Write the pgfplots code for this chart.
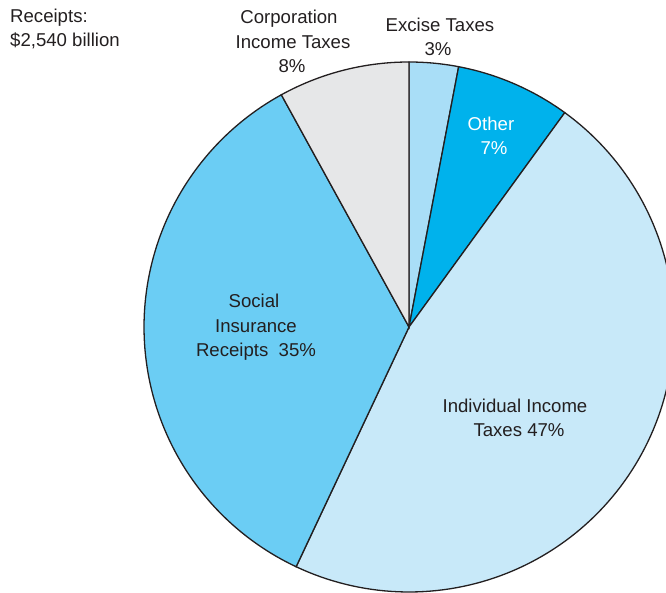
\documentclass[border=0pt]{standalone}
\usepackage{pgfplots}
\pgfplotsset{compat=1.18}
\usepackage{fontspec}
\setmainfont{Liberation Sans}
\definecolor{txt}{HTML}{231F20}
\definecolor{edge}{HTML}{231F20}
\definecolor{excise}{HTML}{A9DEF7}
\definecolor{other}{HTML}{00B2EC}
\definecolor{indiv}{HTML}{C8E9F9}
\definecolor{social}{HTML}{6BCDF4}
\definecolor{corp}{HTML}{E6E7E8}
% pie centre and radius (pixels of the reference, y upwards)
\def\cx{409}\def\cy{266}\def\R{265}
\tikzset{lbl/.style={font=\fontsize{18.6bp}{24bp}\selectfont, text=txt, inner sep=0pt}}
\begin{document}
\begin{tikzpicture}
\useasboundingbox (0,0) rectangle (666bp,593bp);
\begin{axis}[
  scale only axis, width=666bp, height=593bp,
  xmin=0, xmax=666, ymin=0, ymax=593,
  hide axis, clip=true,
]
% shares (percent): Excise 3, Other 7, Individual 47, Social 35, Corporation 8
% slices run clockwise from 12 o'clock; angle = 90 - 3.6 * cumulative percent
\addplot[draw=edge, line width=1.3bp, fill=excise, domain=79.2:90, samples=20, variable=\t]
  ({\cx+\R*cos(t)},{\cy+\R*sin(t)}) -- (axis cs:\cx,\cy) -- cycle;
\addplot[draw=edge, line width=1.3bp, fill=other, domain=54:79.2, samples=30, variable=\t]
  ({\cx+\R*cos(t)},{\cy+\R*sin(t)}) -- (axis cs:\cx,\cy) -- cycle;
\addplot[draw=edge, line width=1.3bp, fill=indiv, domain=-115.2:54, samples=120, variable=\t]
  ({\cx+\R*cos(t)},{\cy+\R*sin(t)}) -- (axis cs:\cx,\cy) -- cycle;
\addplot[draw=edge, line width=1.3bp, fill=social, domain=-241.2:-115.2, samples=100, variable=\t]
  ({\cx+\R*cos(t)},{\cy+\R*sin(t)}) -- (axis cs:\cx,\cy) -- cycle;
\addplot[draw=edge, line width=1.3bp, fill=corp, domain=90:118.8, samples=30, variable=\t]
  ({\cx+\R*cos(t)},{\cy+\R*sin(t)}) -- (axis cs:\cx,\cy) -- cycle;
% labels (baselines)
\node[lbl, anchor=base west] at (axis cs:10,570) {Receipts:};
\node[lbl, anchor=base west] at (axis cs:10,546) {\$2,540 billion};
\node[lbl, anchor=base] at (axis cs:289,569) {Corporation};
\node[lbl, anchor=base] at (axis cs:293,544) {Income Taxes};
\node[lbl, anchor=base] at (axis cs:292,520) {8\%};
\node[lbl, anchor=base] at (axis cs:440,561) {Excise Taxes};
\node[lbl, anchor=base] at (axis cs:438,537) {3\%};
\node[lbl, anchor=base, text=white] at (axis cs:491,462) {Other};
\node[lbl, anchor=base, text=white] at (axis cs:494,438) {7\%};
\node[lbl, anchor=base] at (axis cs:254,285) {Social};
\node[lbl, anchor=base] at (axis cs:256,260) {Insurance};
\node[lbl, anchor=base] at (axis cs:256,236) {Receipts\ \ 35\%};
\node[lbl, anchor=base] at (axis cs:515,180) {Individual Income};
\node[lbl, anchor=base] at (axis cs:519,156) {Taxes 47\%};
\end{axis}
\end{tikzpicture}
\end{document}
